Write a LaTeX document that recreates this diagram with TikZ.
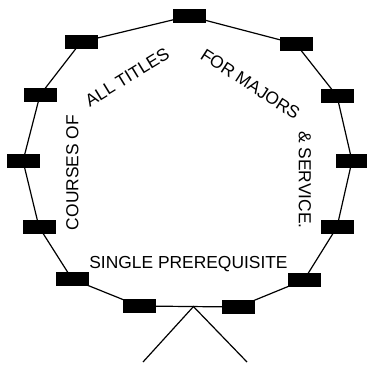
\documentclass[tikz,border=0pt]{standalone}
\usepackage{fontspec}
\setmainfont{Liberation Sans}
\usetikzlibrary{backgrounds,calc}
\begin{document}
\begin{tikzpicture}[x=1pt,y=-1pt,
  blk/.style={fill=black,draw=none,minimum width=33pt,minimum height=14pt,inner sep=0pt},
  lbl/.style={inner sep=0pt,text height=12.5pt,text depth=0pt,font=\fontsize{17.4}{20}\selectfont},
  conn/.style={line width=1.2pt,black}]
\useasboundingbox (0,0) rectangle (367,365);
\node[blk] (b1) at (189,16) {};
\node[blk] (b2) at (81,42) {};
\node[blk] (b3) at (40,95) {};
\node[blk] (b4) at (23,161) {};
\node[blk] (b5) at (39,227) {};
\node[blk] (b6) at (72,279) {};
\node[blk] (b7) at (139,306) {};
\node[blk] (b8) at (238,307) {};
\node[blk] (b9) at (304,280) {};
\node[blk] (b10) at (337,227) {};
\node[blk] (b11) at (352,161) {};
\node[blk] (b12) at (337,96) {};
\node[blk] (b13) at (296,44) {};
\coordinate (apex) at ($(b7)!0.55!(b8)$);
\coordinate (legL) at (143,362);
\coordinate (legR) at (247,362);
\begin{pgfonlayer}{background}
\draw[conn] (b1.center) -- (b2.center) -- (b3.center) -- (b4.center) -- (b5.center) -- (b6.center) -- (b7.center) -- (b8.center) -- (b9.center) -- (b10.center) -- (b11.center) -- (b12.center) -- (b13.center) -- cycle;
\draw[conn] (legL) -- (apex) -- (legR);
\end{pgfonlayer}
\node[lbl,rotate=90] (t1) at (72,172.5) {COURSES OF};
\node[lbl,rotate=31.5] (t2) at (127,77) {ALL TITLES};
\node[lbl,rotate=-33] (t3) at (250.5,84) {FOR MAJORS};
\node[lbl,rotate=-90] (t4) at (305,180) {\& SERVICE.};
\node[lbl] (t5) at (188.5,262.5) {SINGLE PREREQUISITE};
\end{tikzpicture}
\end{document}
